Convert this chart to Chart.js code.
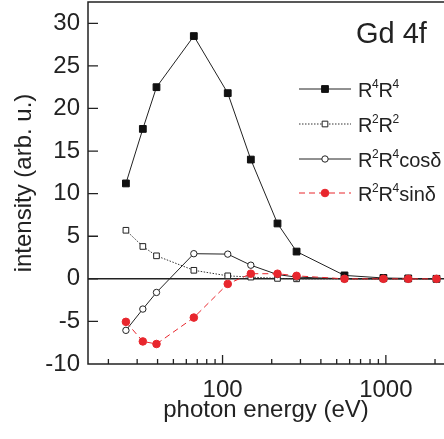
<!DOCTYPE html>
<html>
<head>
<meta charset="utf-8">
<script src="https://cdn.jsdelivr.net/npm/chart.js@4.4.0/dist/chart.umd.min.js"></script>
<style>
  html, body { margin: 0; padding: 0; background: #fff; overflow: hidden; }
</style>
</head>
<body>
<canvas id="gdChart" width="444" height="439"></canvas>
<script>
// photon energies (eV) and the four intensity curves
var energy = [25.6, 32.5, 39.4, 66.7, 107.6, 149, 217, 284, 558, 966, 1371, 2042];
var r4r4   = [11.2, 17.6, 22.5, 28.5, 21.8, 14.0, 6.5, 3.2, 0.4, 0.1, 0.05, 0.0];
var r2r2   = [5.7, 3.8, 2.7, 1.0, 0.35, 0.2, 0.05, 0.0, 0.0, 0.0, 0.0, 0.0];
var r2r4cos = [-6.05, -3.55, -1.6, 2.95, 2.9, 1.6, 0.5, 0.2, 0.0, 0.0, 0.0, 0.0];
var r2r4sin = [-5.05, -7.35, -7.65, -4.55, -0.6, 0.6, 0.6, 0.35, 0.0, 0.0, 0.0, 0.0];

var seriesNames = ["R⁴R⁴", "R²R²", "R²R⁴cosδ", "R²R⁴sinδ"];

// x tick positions, only the decades get a label
var xTicks = [20, 30, 40, 50, 60, 70, 80, 90, 100, 200, 300, 400, 500, 600, 700, 800, 900, 1000, 2000];
var xLabels = [100, 1000];

function pts(vals) {
  return energy.map(function(e, i) { return { x: e, y: vals[i] }; });
}

var FONT = "'Liberation Sans', Arial, sans-serif";

// frame (right side is off the picture), zero line and inward tick marks
var framePlugin = {
  id: 'frame',
  beforeDatasetsDraw: function(chart) {
    var ctx = chart.ctx, a = chart.chartArea;
    var x = chart.scales.x, y = chart.scales.y;
    ctx.save();
    ctx.strokeStyle = '#222';
    ctx.lineWidth = 1.3;
    ctx.beginPath();
    x.ticks.forEach(function(t) {
      var px = x.getPixelForValue(t.value);
      var len = xLabels.indexOf(t.value) >= 0 ? 9 : 5;
      ctx.moveTo(px, a.bottom);
      ctx.lineTo(px, a.bottom - len);
    });
    y.ticks.forEach(function(t) {
      if (t.value >= y.max || t.value <= y.min) return;
      var py = y.getPixelForValue(t.value);
      var len = t.value % 5 === 0 ? 10 : 5;
      ctx.moveTo(a.left, py);
      ctx.lineTo(a.left + len, py);
    });
    ctx.stroke();
    var y0 = y.getPixelForValue(0);
    ctx.lineWidth = 1.6;
    ctx.beginPath();
    ctx.moveTo(a.left, y0);
    ctx.lineTo(a.right, y0);
    ctx.stroke();
    ctx.lineWidth = 1.5;
    ctx.beginPath();
    ctx.moveTo(a.right, a.top);
    ctx.lineTo(a.left, a.top);
    ctx.lineTo(a.left, a.bottom);
    ctx.lineTo(a.right, a.bottom);
    ctx.stroke();
    ctx.restore();
  },
  afterDraw: function(chart) {
    var ctx = chart.ctx;
    ctx.save();
    ctx.fillStyle = '#222';
    ctx.font = '29px ' + FONT;
    ctx.textBaseline = 'alphabetic';
    ctx.fillText('Gd 4f', 356, 43);

    // legend: line sample with marker in the middle, label with superscripts
    var rows = [89, 124, 159, 193];
    chart.data.datasets.forEach(function(ds, i) {
      var yy = rows[i];
      ctx.save();
      ctx.strokeStyle = ds.borderColor;
      ctx.lineWidth = ds.borderWidth;
      ctx.setLineDash(ds.borderDash || []);
      ctx.beginPath();
      ctx.moveTo(299, yy);
      ctx.lineTo(351, yy);
      ctx.stroke();
      ctx.setLineDash([]);
      ctx.fillStyle = ds.pointBackgroundColor;
      ctx.strokeStyle = ds.pointBorderColor;
      ctx.lineWidth = ds.pointBorderWidth;
      Chart.helpers.drawPoint(ctx, { pointStyle: ds.pointStyle, radius: ds.pointRadius, borderWidth: ds.pointBorderWidth }, 325, yy);
      ctx.restore();

      var sx = 358;
      var sup = { '²': '2', '⁴': '4' };
      ctx.textBaseline = 'alphabetic';
      ctx.fillStyle = '#222';
      Array.from(seriesNames[i]).forEach(function(ch) {
        if (sup[ch]) {
          ctx.font = '12px ' + FONT;
          ctx.fillText(sup[ch], sx - 0.5, yy - 1);
          sx += ctx.measureText(sup[ch]).width - 0.5;
        } else {
          ctx.font = '20px ' + FONT;
          ctx.fillText(ch, sx, yy + 8);
          sx += ctx.measureText(ch).width;
        }
      });
    });
    ctx.restore();
  }
};

new Chart(document.getElementById('gdChart'), {
  type: 'line',
  data: {
    datasets: [
      {
        label: seriesNames[0], data: pts(r4r4), order: 3,
        borderColor: '#222', borderWidth: 1,
        pointStyle: 'rect', pointRadius: 4.8, pointBackgroundColor: '#111', pointBorderColor: '#111', pointBorderWidth: 1
      },
      {
        label: seriesNames[1], data: pts(r2r2), order: 2,
        borderColor: '#333', borderWidth: 1, borderDash: [1.5, 1.5],
        pointStyle: 'rect', pointRadius: 4, pointBackgroundColor: '#fff', pointBorderColor: '#222', pointBorderWidth: 1
      },
      {
        label: seriesNames[2], data: pts(r2r4cos), order: 1,
        borderColor: '#222', borderWidth: 1,
        pointStyle: 'circle', pointRadius: 3.2, pointBackgroundColor: '#fff', pointBorderColor: '#222', pointBorderWidth: 1
      },
      {
        label: seriesNames[3], data: pts(r2r4sin), order: 0,
        borderColor: '#e8262d', borderWidth: 1, borderDash: [6, 4],
        pointStyle: 'circle', pointRadius: 3.8, pointBackgroundColor: '#e8262d', pointBorderColor: '#e8262d', pointBorderWidth: 1
      }
    ]
  },
  options: {
    responsive: false,
    animation: false,
    layout: { autoPadding: false, padding: { top: 2, right: 0, left: 0, bottom: 0 } },
    plugins: { legend: { display: false }, tooltip: { enabled: false } },
    scales: {
      x: {
        type: 'logarithmic',
        min: 15, max: 2270,
        afterBuildTicks: function(s) { s.ticks = xTicks.map(function(v) { return { value: v }; }); },
        afterFit: function(s) { s.height = 75; s.paddingLeft = 0; s.paddingRight = 0; },
        grid: { display: false, drawTicks: false },
        border: { display: false },
        ticks: {
          autoSkip: false, maxRotation: 0, padding: 12,
          color: '#222', font: { family: FONT, size: 24 },
          callback: function(v) { return xLabels.indexOf(v) >= 0 ? String(v) : ''; }
        },
        title: { display: true, text: 'photon energy (eV)', color: '#222', font: { family: FONT, size: 24 }, padding: { top: 0, bottom: 14 } }
      },
      y: {
        min: -10, max: 32.5,
        afterFit: function(s) { s.width = 88; s.paddingTop = 0; s.paddingBottom = 0; },
        grid: { display: false, drawTicks: false },
        border: { display: false },
        ticks: {
          stepSize: 2.5, padding: 8,
          color: '#222', font: { family: FONT, size: 24 },
          callback: function(v) { return v % 5 === 0 ? String(v) : ''; }
        },
        title: { display: true, text: 'intensity (arb. u.)', color: '#222', font: { family: FONT, size: 24 }, padding: { top: 10, bottom: 0 } }
      }
    }
  },
  plugins: [framePlugin]
});
</script>
</body>
</html>
